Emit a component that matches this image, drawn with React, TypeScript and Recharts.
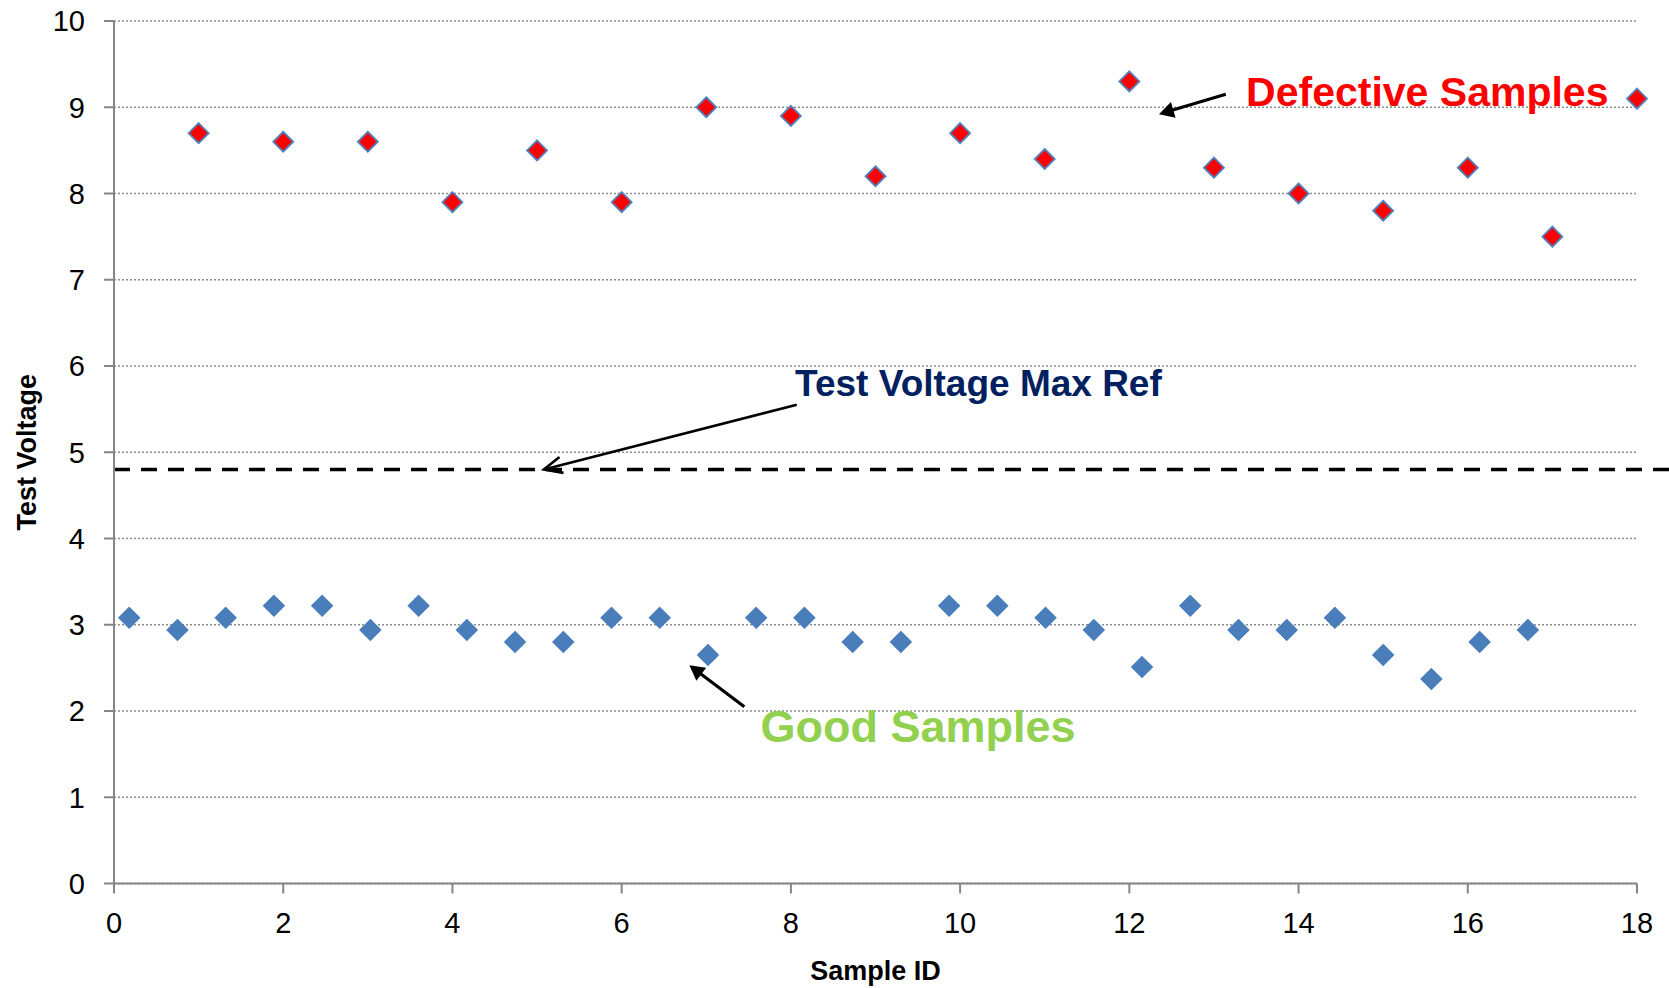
import React from "react";
import {
  ScatterChart,
  Scatter,
  XAxis,
  YAxis,
  CartesianGrid,
  ReferenceLine,
  ReferenceDot,
} from "recharts";

const FONT = "'Liberation Sans', Arial, sans-serif";
const AXIS_GREY = "#868686";

const xTicks = [0, 2, 4, 6, 8, 10, 12, 14, 16, 18];
const yTicks = [0, 1, 2, 3, 4, 5, 6, 7, 8, 9, 10];

// good samples (blue)
const goodIds = [
  0.18, 0.75, 1.32, 1.89, 2.46, 3.03, 3.6, 4.17, 4.74, 5.31, 5.88, 6.45, 7.02, 7.59, 8.16,
  8.73, 9.3, 9.87, 10.44, 11.01, 11.58, 12.15, 12.72, 13.29, 13.86, 14.43, 15.0, 15.57, 16.14, 16.71,
];
const goodVoltages = [
  3.08, 2.94, 3.08, 3.22, 3.22, 2.94, 3.22, 2.94, 2.8, 2.8, 3.08, 3.08, 2.65, 3.08, 3.08,
  2.8, 2.8, 3.22, 3.22, 3.08, 2.94, 2.51, 3.22, 2.94, 2.94, 3.08, 2.65, 2.37, 2.8, 2.94,
];

// defective samples (red)
const defectiveIds = [1, 2, 3, 4, 5, 6, 7, 8, 9, 10, 11, 12, 13, 14, 15, 16, 17, 18];
const defectiveVoltages = [
  8.7, 8.6, 8.6, 7.9, 8.5, 7.9, 9.0, 8.9, 8.2, 8.7, 8.4, 9.3, 8.3, 8.0, 7.8, 8.3, 7.5, 9.1,
];

const maxRefVoltage = 4.8;

const goodData = goodIds.map((x, i) => ({ x, y: goodVoltages[i] }));
const defectiveData = defectiveIds.map((x, i) => ({ x, y: defectiveVoltages[i] }));

// annotation positions, in data units
const notes = [
  { text: "Defective Samples", x: 13.38, y: 9.01, color: "#FF0000", size: 41 },
  { text: "Test Voltage Max Ref", x: 8.05, y: 5.65, color: "#002060", size: 37 },
  { text: "Good Samples", x: 7.64, y: 1.64, color: "#92D050", size: 45 },
];
const arrows = [
  { from: { x: 13.14, y: 9.15 }, to: { x: 12.35, y: 8.92 }, open: false, width: 3.2 },
  { from: { x: 8.07, y: 5.55 }, to: { x: 5.08, y: 4.8 }, open: true, width: 2.6 },
  { from: { x: 7.45, y: 2.05 }, to: { x: 6.8, y: 2.53 }, open: false, width: 3.2 },
];

const Diamond = (color: string, stroke: string) => (p: any) => {
  const { cx, cy } = p;
  const r = 10;
  return (
    <path
      d={`M${cx},${cy - r} L${cx + r},${cy} L${cx},${cy + r} L${cx - r},${cy} Z`}
      fill={color}
      stroke={stroke}
      strokeWidth={1.8}
    />
  );
};

const arrowShape = (open: boolean, width: number) => (p: any) => {
  const { x1, y1, x2, y2 } = p;
  const ang = Math.atan2(y2 - y1, x2 - x1);
  const len = open ? 20 : 17;
  const spread = open ? 0.42 : 0.5;
  const ax = x2 - len * Math.cos(ang - spread);
  const ay = y2 - len * Math.sin(ang - spread);
  const bx = x2 - len * Math.cos(ang + spread);
  const by = y2 - len * Math.sin(ang + spread);
  if (open) {
    return (
      <g>
        <line x1={x1} y1={y1} x2={x2} y2={y2} stroke="#000" strokeWidth={width} />
        <polyline
          points={`${ax},${ay} ${x2},${y2} ${bx},${by}`}
          fill="none"
          stroke="#000"
          strokeWidth={width}
        />
      </g>
    );
  }
  const ex = x2 - len * 0.8 * Math.cos(ang);
  const ey = y2 - len * 0.8 * Math.sin(ang);
  return (
    <g>
      <line x1={x1} y1={y1} x2={ex} y2={ey} stroke="#000" strokeWidth={width} />
      <polygon points={`${x2},${y2} ${ax},${ay} ${bx},${by}`} fill="#000" />
    </g>
  );
};

const noteShape = (text: string, color: string, size: number) => (p: any) => (
  <text
    x={p.cx}
    y={p.cy}
    fill={color}
    fontSize={size}
    fontWeight="bold"
    fontFamily={FONT}
    textAnchor="start"
  >
    {text}
  </text>
);

export default function App() {
  return (
    <div style={{ position: "absolute", left: 0, top: 0, background: "#fff" }}>
      <ScatterChart
        width={1669}
        height={988}
        margin={{ top: 21, right: 32, left: 0, bottom: 0 }}
      >
        <CartesianGrid
          vertical={false}
          stroke="#8c8c8c"
          strokeDasharray="2 2"
          strokeWidth={1.3}
        />
        <XAxis
          type="number"
          dataKey="x"
          domain={[0, 18]}
          ticks={xTicks}
          height={104.5}
          tickSize={10}
          tickMargin={19}
          axisLine={{ stroke: AXIS_GREY, strokeWidth: 2 }}
          tickLine={{ stroke: AXIS_GREY, strokeWidth: 2 }}
          tick={{ fontSize: 29, fill: "#000", fontFamily: FONT }}
          label={{
            content: ({ viewBox }: any) => (
              <text
                x={viewBox.x + viewBox.width / 2}
                y={viewBox.y + 87.5}
                textAnchor="middle"
                dominantBaseline="central"
                fontSize={27}
                fontWeight="bold"
                fontFamily={FONT}
                fill="#000"
              >
                Sample ID
              </text>
            ),
          }}
        />
        <YAxis
          type="number"
          dataKey="y"
          domain={[0, 10]}
          ticks={yTicks}
          width={114}
          tickSize={10}
          tickMargin={19}
          axisLine={{ stroke: AXIS_GREY, strokeWidth: 2 }}
          tickLine={{ stroke: AXIS_GREY, strokeWidth: 2 }}
          tick={{ fontSize: 29, fill: "#000", fontFamily: FONT }}
          label={{
            content: ({ viewBox }: any) => {
              const cx = viewBox.x + 27;
              const cy = viewBox.y + viewBox.height / 2;
              return (
                <text
                  x={cx}
                  y={cy}
                  transform={`rotate(-90, ${cx}, ${cy})`}
                  textAnchor="middle"
                  dominantBaseline="central"
                  fontSize={27}
                  fontWeight="bold"
                  fontFamily={FONT}
                  fill="#000"
                >
                  Test Voltage
                </text>
              );
            },
          }}
        />
        <ReferenceLine
          segment={[
            { x: 0, y: maxRefVoltage },
            { x: 18.4, y: maxRefVoltage },
          ]}
          ifOverflow="visible"
          stroke="#000"
          strokeWidth={3.5}
          strokeDasharray="16 11"
        />
        <Scatter
          name="Good"
          data={goodData}
          shape={Diamond("#4A7EBB", "#4A7EBB")}
          isAnimationActive={false}
        />
        <Scatter
          name="Defective"
          data={defectiveData}
          shape={Diamond("#FF0000", "#4F81BD")}
          isAnimationActive={false}
        />
        {arrows.map((a, i) => (
          <ReferenceLine
            key={`arrow-${i}`}
            segment={[a.from, a.to]}
            ifOverflow="visible"
            shape={arrowShape(a.open, a.width)}
          />
        ))}
        {notes.map((n) => (
          <ReferenceDot
            key={n.text}
            x={n.x}
            y={n.y}
            r={0}
            ifOverflow="visible"
            shape={noteShape(n.text, n.color, n.size)}
          />
        ))}
      </ScatterChart>
    </div>
  );
}
